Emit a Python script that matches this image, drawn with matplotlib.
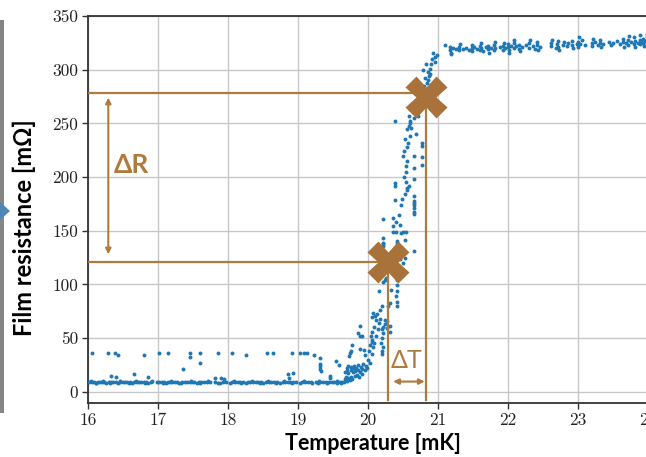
import numpy as np
import matplotlib.pyplot as plt
from matplotlib.patches import Rectangle, Polygon

# baseline (superconducting state), R ~ 9 mOhm
base_T = [16.02, 16.05, 16.08, 16.11, 16.14, 16.17, 16.2, 16.23, 16.26, 16.3, 16.33, 16.36, 16.4,
          16.43, 16.46, 16.5, 16.53, 16.56, 16.6, 16.63, 16.66, 16.7, 16.73, 16.76, 16.8, 16.83,
          16.86, 16.9, 16.99, 17.02, 17.05, 17.08, 17.11, 17.14, 17.17, 17.2, 17.24, 17.27, 17.3,
          17.34, 17.38, 17.42, 17.45, 17.48, 17.52, 17.55, 17.58, 17.62, 17.66, 17.7, 17.74,
          17.82, 17.86, 17.93, 17.97, 18.03, 18.06, 18.1, 18.14, 18.17, 18.21, 18.25, 18.28,
          18.32, 18.36, 18.4, 18.43, 18.47, 18.5, 18.54, 18.59, 18.62, 18.66, 18.7, 18.74,
          18.78, 18.81, 18.85, 18.89, 18.93, 18.97, 19.03, 19.06, 19.1, 19.14, 19.18, 19.25,
          19.28, 19.32, 19.36, 19.4, 19.44, 19.48, 19.52, 19.56, 19.6, 19.63, 19.66,
          16.04, 16.12, 16.21, 16.31, 16.45, 16.58, 16.69, 16.81, 16.92, 17.07, 17.19, 17.33,
          17.47, 17.6, 17.72, 17.88, 18.08, 18.19, 18.34, 18.45, 18.57, 18.68, 18.8, 18.91,
          19.08, 19.2, 19.3, 19.42, 19.55, 19.62]
base_R = [9, 9.5, 9, 8.5, 9, 9, 9.5, 9, 8.5, 9, 9, 9.5, 9, 8.5, 9, 9, 9, 9.5, 9, 8.5, 9, 9, 9,
          9.5, 9, 9, 8.5, 9, 9, 9.5, 9, 9, 8.5, 9, 9, 9.5, 9, 9, 8.5, 9, 9, 9, 9.5, 9, 9, 8.5,
          9, 9, 9.5, 9, 9, 9, 8.5, 9, 9, 8.5, 9, 9, 9.5, 9, 9, 8.5, 9, 9, 9, 9.5, 9, 9, 8.5, 9,
          9, 9, 9.5, 9, 8.5, 9, 9, 9, 9.5, 9, 9, 8.5, 9, 9, 9, 9.5, 9, 8.5, 9, 9, 9, 9.5, 9, 9,
          8.5, 9, 9, 9.5,
          10.2, 7.8, 10, 8, 10.3, 7.9, 10.1, 8, 10.2, 7.8, 10, 8.1, 10.3, 7.9, 10, 8, 10.2, 7.8,
          10, 8, 10.3, 7.9, 10.1, 8, 10.2, 7.8, 10, 8.1, 10.3, 7.9]

# sporadic points above baseline
extra_T = [16.05, 16.29, 16.39, 16.43, 16.80, 17.01, 17.14, 17.46, 17.46, 17.60, 17.60, 17.85,
           18.05, 18.25, 18.55, 18.64, 18.92, 19.03, 19.08, 19.13, 19.23, 19.31, 19.31, 19.32,
           19.54, 16.33, 16.40, 16.66, 16.86, 17.35, 17.81, 17.90, 17.94, 18.86, 18.93, 18.87,
           19.46, 19.46, 19.31, 19.33]
extra_R = [36, 36, 36, 34.5, 34.5, 36, 36, 36, 32, 36, 27, 36, 36, 34, 36, 36, 36, 36, 36, 36,
           34, 31, 26, 24, 28.5, 15, 14, 16.5, 14, 21.5, 12.7, 13, 12, 16.5, 17.5, 13, 15, 13,
           21, 19]

# superconducting transition
trans_T = [19.58, 19.67, 19.69, 19.7, 19.72, 19.74, 19.75, 19.77, 19.67, 19.7, 19.72, 19.75,
           19.78, 19.82, 19.85, 19.88, 19.92, 19.95, 19.98, 19.7, 19.72, 19.75, 19.78, 19.73,
           19.75, 19.77, 19.74, 19.89, 19.94, 19.96, 19.86, 19.88, 19.91, 19.88, 20.03, 20.05,
           20.07, 20.03, 20.05, 20.04, 20.06, 20.08, 20.05, 20.2, 20.2, 20.21, 20.19, 20.2,
           20.21, 20.2, 20.22, 20.24, 20.27, 20.27, 20.31, 20.31, 20.11, 20.17, 20.24, 20.05,
           20.07, 20.1, 20.13, 20.17, 20.2, 20.29, 20.31, 20.41, 20.41, 20.15, 20.4, 20.41,
           20.41, 20.42, 20.22, 20.24, 20.26, 20.46, 20.5, 20.45, 20.53, 20.65, 20.42, 20.53,
           20.21, 20.21, 20.22, 20.4, 20.5, 20.54, 20.36, 20.47, 20.22, 20.42, 20.22, 20.35,
           20.4, 20.46, 20.36, 20.66, 20.66, 20.66, 20.65, 20.47, 20.39, 20.65, 20.65, 20.65,
           20.39, 20.39, 20.53, 20.55, 20.58, 20.54, 20.56, 20.66, 20.54, 20.54, 20.66, 20.77,
           20.77, 20.66, 20.5, 20.52, 20.55, 20.57, 20.53, 20.77, 20.77, 20.55, 20.58, 20.6,
           20.62, 20.39, 20.58, 20.72, 20.64, 20.68, 20.73, 20.77, 20.85, 20.87, 20.86, 20.88,
           20.9, 20.84, 20.89, 20.92, 20.95, 20.98, 20.93, 20.96, 20.82, 20.6, 20.66, 20.7,
           19.8, 19.83, 19.86, 19.9, 19.93, 19.97, 20.0, 20.01, 19.81, 19.84, 19.87, 19.92,
           20.09, 20.12, 20.14, 20.16, 20.33, 20.35, 20.37, 20.44, 20.48, 20.51, 20.56, 20.6,
           20.62, 20.69, 20.71, 20.75, 20.8, 20.79, 20.81, 20.83]
trans_R = [25, 12, 14, 10, 13, 11, 14, 12, 18, 19, 17.7, 20, 18, 19, 20, 18.5, 21, 20, 22, 22,
           24, 23, 22, 33, 38, 44, 36, 40, 39, 34.5, 55, 52, 51.6, 61.6, 27, 35, 42, 44, 48, 52,
           56, 60, 46, 35, 38, 42, 45, 50, 55, 58, 60, 63, 59, 65.6, 56, 61, 67, 68, 67, 70,
           73.7, 71, 72, 76, 79.6, 80, 83, 80, 84, 93.6, 89, 94, 99, 104.5, 102, 104, 106, 115,
           120, 124, 124.7, 131, 138.7, 141.8, 136, 139, 143.4, 148.5, 149, 148.6, 148.6, 148,
           138, 140, 161, 162, 158, 155, 154, 166, 171, 176, 167, 174, 179, 174, 178, 182, 192,
           194, 184, 188, 192, 195, 190, 198, 205, 210, 208, 211, 218.5, 219.6, 220, 224, 228,
           232, 235, 229, 232, 245, 248, 250, 246, 252, 257, 257, 263, 270, 272, 274, 290, 294,
           298, 301, 305, 288, 296, 310, 312, 314, 316, 307, 292, 252, 255, 260,
           24, 22, 25, 23, 26, 24, 30, 38, 15, 16, 14, 17, 45, 52, 58, 64, 95, 110, 128, 165,
           180, 200, 215, 238, 265, 240, 262, 282, 285, 300, 270, 305]

# normal state plateau
plat_T = [21.10, 21.17, 21.17, 21.19, 21.21, 21.25, 21.30, 21.30, 21.36, 21.40, 21.44, 21.48,
          21.48, 21.52, 21.55, 21.60, 21.60, 21.62, 21.64, 21.68, 21.72, 21.72, 21.75, 21.80,
          21.80, 21.82, 21.88, 21.93, 21.93, 21.95, 22.00, 22.00, 22.02, 22.04, 22.08, 22.08,
          22.12, 22.16, 22.16, 22.20, 22.25, 22.30, 22.30, 22.36, 22.38, 22.42, 22.42, 22.45,
          22.62, 22.62, 22.68, 22.70, 22.72, 22.72, 22.78, 22.80, 22.84, 22.86, 22.92, 22.92,
          22.98, 23.00, 23.00, 23.03, 23.05, 23.10, 23.20, 23.20, 23.24, 23.28, 23.32, 23.32,
          23.36, 23.44, 23.47, 23.50, 23.55, 23.60, 23.64, 23.64, 23.68, 23.72, 23.72, 23.75,
          23.80, 23.80, 23.82, 23.85, 23.88, 23.88, 23.90, 23.93, 23.93, 23.96, 23.99, 23.99,
          21.18, 21.31, 21.49, 21.61, 21.73, 21.81, 21.94, 22.01, 22.09, 22.17, 22.31, 22.43,
          22.63, 22.73, 22.93, 23.01, 23.21, 23.33, 23.65, 23.73, 23.81, 23.89, 23.94, 23.98]
plat_R = [323, 318, 321, 316, 320, 319, 318, 321, 319, 320, 318, 320, 317, 321, 319, 318, 322,
          320, 317, 321, 319, 322, 320, 318, 323, 320, 321, 318, 322, 320, 321, 324, 318, 322,
          320, 325, 322, 319, 323, 321, 323, 320, 325, 322, 319, 323, 326, 321, 322, 325, 320,
          324, 321, 327, 323, 326, 322, 325, 323, 327, 324, 321, 326, 324, 328, 323, 325, 322,
          326, 323, 325, 328, 324, 326, 323, 325, 327, 324, 326, 329, 325, 323, 328, 326, 324,
          330, 327, 325, 328, 324, 326, 329, 325, 327, 324, 330,
          315, 324, 323, 325, 316, 326, 325, 316, 328, 317, 328, 318, 328, 318, 320, 330, 329,
          321, 321, 331, 321, 332, 322, 333]

# annotation values
T_low, R_low = 20.28, 120.5
T_high, R_high = 20.83, 278

brown = '#AF7A3E'
mark_col = '#A8723A'

fig = plt.figure(figsize=(6.46, 4.57), dpi=100)
W, H = 646, 457
ax = fig.add_axes([88 / W, 1 - 402.5 / H, 560 / W, 386.5 / H])

T_all = base_T + extra_T + trans_T + plat_T
R_all = base_R + extra_R + trans_R + plat_R
ax.scatter(T_all, R_all, s=8, color='#1f77b4', linewidths=0, zorder=3)

ax.set_xlim(16, 24)
ax.set_ylim(-10, 350)
ax.set_xticks(range(16, 25))
ax.set_yticks(range(0, 351, 50))
ax.grid(True, color='#c8c8c8', lw=1.0, zorder=0)
ax.set_axisbelow(True)
for s in ['left', 'bottom', 'top']:
    ax.spines[s].set_color('#333333')
    ax.spines[s].set_linewidth(1.3)
ax.spines['right'].set_visible(False)
ax.tick_params(direction='out', length=4, width=1, color='#333333', labelcolor='#222222',
               pad=3)
for lab in ax.get_xticklabels() + ax.get_yticklabels():
    lab.set_family('cmr10')
    lab.set_fontsize(12.5)

# guide lines
ax.plot([16, T_high], [R_high, R_high], color=brown, lw=1.6, zorder=4)
ax.plot([16, T_low], [R_low, R_low], color=brown, lw=1.6, zorder=4)
ax.plot([T_low, T_low], [R_low, -8], color=brown, lw=1.6, zorder=4, clip_on=False)
ax.plot([T_high, T_high], [R_high, -8], color=brown, lw=1.6, zorder=4, clip_on=False)

# crosses
ax.plot([T_low, T_high], [R_low, R_high - 3], ls='none', marker='X', ms=30,
        color=mark_col, mec='none', zorder=5)

# arrows
ax.annotate('', xy=(16.29, 274), xytext=(16.29, 128),
            arrowprops=dict(arrowstyle='<|-|>', color=brown, lw=1.5, mutation_scale=8,
                            shrinkA=0, shrinkB=0), zorder=4)
ax.annotate('', xy=(20.36, 9.5), xytext=(20.81, 9.5),
            arrowprops=dict(arrowstyle='<|-|>', color=brown, lw=1.5, mutation_scale=8,
                            shrinkA=0, shrinkB=0), zorder=4)
ax.text(16.37, 211, 'ΔR', color=brown, fontsize=19, fontweight='bold',
        family=['Lato', 'DejaVu Sans'], ha='left', va='center', zorder=6)
ax.text(20.55, 29, 'ΔT', color=brown, fontsize=18,
        family=['Lato', 'DejaVu Sans'], ha='center', va='center', zorder=6)

# axis labels (slide text)
fig.text(373 / W, 1 - 443 / H, 'Temperature [mK]', fontsize=15.5, fontweight='bold',
         family=['Lato', 'DejaVu Sans'], ha='center', va='center')
fig.text(24 / W, 1 - 228 / H, 'Film resistance [mΩ]', fontsize=17, fontweight='bold',
         family=['Lato', 'DejaVu Sans'], rotation=90, ha='center', va='center')

# slide remnants on the left edge
fig.patches.append(Rectangle((0, 1 - 413 / H), 3.5 / W, 393 / H, transform=fig.transFigure,
                             facecolor='#858585', edgecolor='none'))
fig.patches.append(Polygon([(0, 1 - 202 / H), (10 / W, 1 - 211 / H), (0, 1 - 220 / H)],
                           closed=True, transform=fig.transFigure,
                           facecolor='#4f86b5', edgecolor='none'))

fig.savefig('out.png', dpi=100)
